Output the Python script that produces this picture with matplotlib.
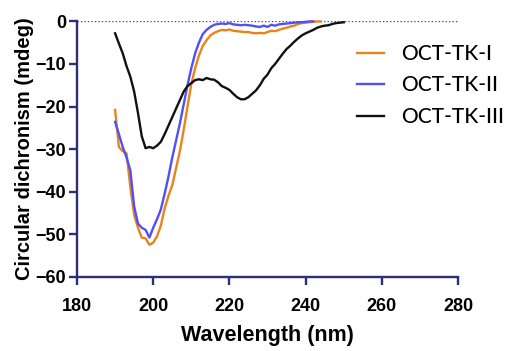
import numpy as np
import matplotlib
matplotlib.use("Agg")
import matplotlib.pyplot as plt

# wavelength grid (nm)
wl = np.arange(190, 251)

# OCT-TK-I (orange)
tk1 = [-20.8, -29.5, -30.5, -31.0, -39.0, -45.5, -48.5, -50.8, -51.0, -52.5,
       -52.0, -50.5, -48.0, -44.0, -41.0, -38.5, -34.5, -30.5, -25.5, -20.0,
       -14.8, -11.0, -8.0, -5.8, -4.4, -3.3, -2.7, -2.3, -2.0, -2.1,
       -1.9, -2.2, -2.3, -2.4, -2.5, -2.5, -2.7, -2.8, -2.7, -2.8,
       -2.5, -2.2, -2.3, -2.0, -1.7, -1.5, -1.2, -1.0, -0.6, -0.4,
       -0.3, -0.2, -0.1, 0.0, 0.0] + [np.nan] * 6

# OCT-TK-II (blue)
tk2 = [-23.6, -26.5, -29.5, -32.0, -35.0, -43.5, -47.5, -48.5, -49.0, -50.8,
       -48.5, -46.5, -44.2, -40.5, -36.5, -32.0, -28.0, -24.0, -19.5, -15.0,
       -11.0, -7.5, -5.0, -3.0, -2.0, -1.3, -0.8, -0.6, -0.5, -0.6,
       -0.4, -0.7, -0.8, -0.9, -0.8, -0.9, -1.0, -1.2, -1.3, -1.0,
       -1.3, -0.8, -1.0, -0.7, -0.6, -0.5, -0.4, -0.3, -0.2, -0.2,
       -0.1, 0.0, 0.0] + [np.nan] * 8

# OCT-TK-III (black)
tk3 = [-2.8, -5.2, -7.5, -10.5, -13.0, -16.5, -21.5, -27.0, -29.8, -29.5,
       -29.8, -29.2, -28.3, -26.5, -24.5, -22.5, -20.5, -18.5, -16.5, -15.2,
       -14.5, -13.8, -13.6, -13.8, -13.3, -13.6, -13.7, -14.3, -15.2, -15.6,
       -16.1, -17.0, -17.8, -18.3, -18.3, -17.8, -17.0, -16.2, -15.0, -13.5,
       -12.5, -11.0, -10.0, -8.8, -7.6, -6.5, -5.7, -4.8, -4.0, -3.3,
       -2.8, -2.4, -2.0, -1.5, -1.2, -1.0, -0.9, -0.6, -0.4, -0.3,
       -0.2]

labels = ["OCT-TK-I", "OCT-TK-II", "OCT-TK-III"]
colors = ["#E8841F", "#5050F5", "#111111"]

axis_col = "#2E2E78"
plt.rcParams["font.family"] = ["Liberation Sans", "DejaVu Sans"]

fig = plt.figure(figsize=(5.26, 3.51), dpi=100)
ax = fig.add_axes([0.1464, 0.2117, 0.7243, 0.7273])

for y, lab, c in zip([tk1, tk2, tk3], labels, colors):
    ax.plot(wl, y, color=c, lw=1.7, label=lab, clip_on=False, zorder=3)

ax.axhline(0, color="#4848A8", lw=1.0, ls=(0, (1, 1.5)), zorder=2)

ax.set_xlim(180, 280)
ax.set_ylim(-60, 0)
ax.set_xticks(range(180, 281, 20))
ax.set_yticks(range(-60, 1, 10))

for s in ["top", "right"]:
    ax.spines[s].set_visible(False)
for s in ["left", "bottom"]:
    ax.spines[s].set_color(axis_col)
    ax.spines[s].set_linewidth(1.7)

ax.tick_params(axis="both", colors=axis_col, width=1.7, length=5.5,
               labelsize=13, labelcolor="black")
ax.tick_params(axis="x", pad=10)
ax.tick_params(axis="y", pad=2.5)
for t in ax.get_xticklabels() + ax.get_yticklabels():
    t.set_fontweight("bold")

ax.set_xlabel("Wavelength (nm)", fontsize=15.5, fontweight="bold", labelpad=7)
ax.set_ylabel("Circular dichronism (mdeg)", fontsize=14.5, fontweight="bold", labelpad=1)

leg = ax.legend(loc="upper left", bbox_to_anchor=(0.685, 0.985), frameon=False,
                handlelength=1.3, handletextpad=0.85, labelspacing=0.55,
                prop={"family": "Lato", "size": 15, "weight": "medium"})

fig.savefig("out.png", dpi=100)
